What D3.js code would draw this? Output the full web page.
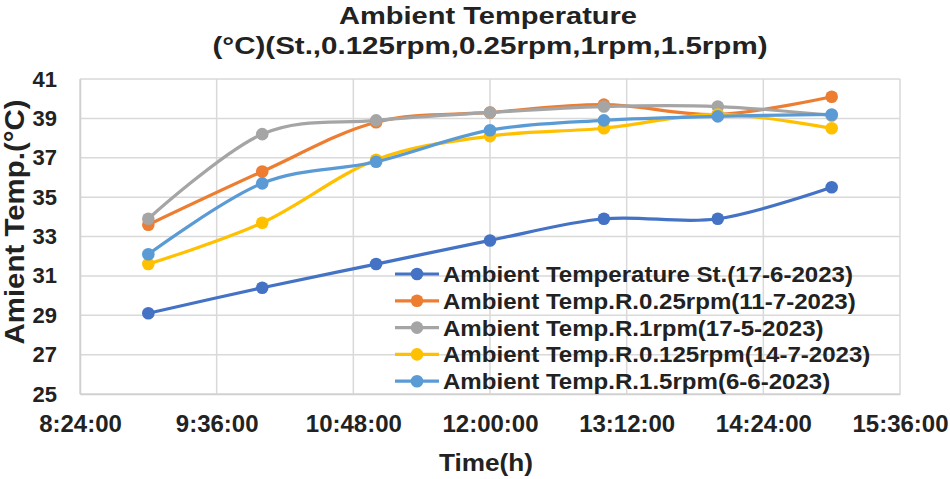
<!doctype html>
<html>
<head>
<script src="https://d3js.org/d3.v7.min.js"></script>
<style>
  body { margin: 0; background: #fff; }
  text { fill: #222; }
</style>
</head>
<body>
<svg width="950" height="479"></svg>
<script>
// time of each reading
var times = ["9:00:00", "10:00:00", "11:00:00", "12:00:00", "13:00:00", "14:00:00", "15:00:00"];

// series values (deg C)
var stValues   = [29.1, 30.4, 31.6, 32.8, 33.9, 33.9, 35.5];
var r025Values = [33.6, 36.3, 38.8, 39.3, 39.7, 39.2, 40.1];
var r1Values   = [33.9, 38.2, 38.9, 39.3, 39.6, 39.6, 39.15];
var r0125Values = [31.6, 33.7, 36.9, 38.1, 38.5, 39.2, 38.5];
var r15Values  = [32.1, 35.7, 36.8, 38.4, 38.9, 39.1, 39.2];

var seriesNames = [
  "Ambient Temperature St.(17-6-2023)",
  "Ambient Temp.R.0.25rpm(11-7-2023)",
  "Ambient Temp.R.1rpm(17-5-2023)",
  "Ambient Temp.R.0.125rpm(14-7-2023)",
  "Ambient Temp.R.1.5rpm(6-6-2023)"
];
var seriesValues = [stValues, r025Values, r1Values, r0125Values, r15Values];
var colors = ["#4472C4", "#ED7D31", "#A5A5A5", "#FFC000", "#5B9BD5"];

// axis ticks
var xTickLabels = ["8:24:00", "9:36:00", "10:48:00", "12:00:00", "13:12:00", "14:24:00", "15:36:00"];
var yTicks = [25, 27, 29, 31, 33, 35, 37, 39, 41];

function toMin(s) {
  var p = s.split(":");
  return +p[0] * 60 + +p[1] + (+p[2]) / 60;
}

var svg = d3.select("svg");
var plotL = 80, plotR = 900, plotT = 79, plotB = 394;
var font = "Liberation Sans, Arial, Helvetica, sans-serif";

var x = d3.scaleLinear().domain([toMin("8:24:00"), toMin("15:36:00")]).range([plotL, plotR]);
var y = d3.scaleLinear().domain([25, 41]).range([plotB, plotT]);

// gridlines
var grid = svg.append("g");
grid.selectAll(".hg").data(yTicks).enter().append("line")
  .attr("x1", plotL).attr("x2", plotR)
  .attr("y1", function(d) { return y(d); }).attr("y2", function(d) { return y(d); })
  .style("stroke", "#d9d9d9").style("stroke-width", 1.5);
grid.selectAll(".vg").data(xTickLabels).enter().append("line")
  .attr("x1", function(d) { return x(toMin(d)); }).attr("x2", function(d) { return x(toMin(d)); })
  .attr("y1", plotT).attr("y2", plotB)
  .style("stroke", "#d9d9d9").style("stroke-width", 1.5);

// axes
var yAxis = svg.append("g")
  .attr("transform", "translate(" + plotL + ",0)")
  .call(d3.axisLeft(y).tickValues(yTicks).tickSize(0).tickPadding(23));
yAxis.select(".domain").style("stroke", "#d0d0d0").style("stroke-width", 1.5);
yAxis.selectAll("text")
  .style("font-family", font)
  .style("font-size", "22px").style("font-weight", "bold").style("fill", "#222");

var xAxis = svg.append("g")
  .attr("transform", "translate(0," + plotB + ")")
  .call(d3.axisBottom(x).tickValues(xTickLabels.map(toMin)).tickSize(0)
    .tickFormat(function(d, i) { return xTickLabels[i]; }));
xAxis.select(".domain").style("stroke", "#d0d0d0").style("stroke-width", 1.5);
xAxis.selectAll("text")
  .attr("y", 38).attr("dy", 0)
  .style("font-family", font)
  .style("font-size", "24px").style("font-weight", "bold").style("fill", "#222");

// lines and markers
var line = d3.line()
  .x(function(d, i) { return x(toMin(times[i])); })
  .y(function(d) { return y(d); })
  .curve(d3.curveCardinal.tension(0));

seriesValues.forEach(function(vals, k) {
  svg.append("path")
    .datum(vals)
    .attr("d", line)
    .style("fill", "none")
    .style("stroke", colors[k])
    .style("stroke-width", 3.2);
  svg.append("g").selectAll("circle")
    .data(vals).enter().append("circle")
    .attr("cx", function(d, i) { return x(toMin(times[i])); })
    .attr("cy", function(d) { return y(d); })
    .attr("r", 6.3)
    .style("fill", colors[k]);
});

// legend
var legend = svg.append("g").attr("transform", "translate(395,274)");
var legendScale = null;
seriesNames.forEach(function(name, k) {
  var row = legend.append("g").attr("transform", "translate(0," + (k * 26.8) + ")");
  row.append("line").attr("x1", 0).attr("x2", 44).attr("y1", 0).attr("y2", 0)
    .style("stroke", colors[k]).style("stroke-width", 3.2);
  row.append("circle").attr("cx", 22).attr("cy", 0).attr("r", 6.3).style("fill", colors[k]);
  var t = row.append("text").attr("x", 48).attr("y", 8)
    .style("font-family", font)
    .style("font-size", "22px").style("font-weight", "bold")
    .text(name);
  var w = t.node().getComputedTextLength();
  if (legendScale === null) legendScale = 410 / w;
  t.attr("textLength", w * legendScale).attr("lengthAdjust", "spacingAndGlyphs");
});

// titles
svg.append("text").attr("x", 488).attr("y", 24).attr("text-anchor", "middle")
  .attr("textLength", 298).attr("lengthAdjust", "spacingAndGlyphs")
  .style("font-family", font)
  .style("font-size", "23px").style("font-weight", "bold")
  .text("Ambient Temperature");
svg.append("text").attr("x", 490).attr("y", 54).attr("text-anchor", "middle")
  .attr("textLength", 555).attr("lengthAdjust", "spacingAndGlyphs")
  .style("font-family", font)
  .style("font-size", "23px").style("font-weight", "bold")
  .text("(°C)(St.,0.125rpm,0.25rpm,1rpm,1.5rpm)");

svg.append("text").attr("x", 486).attr("y", 471).attr("text-anchor", "middle")
  .attr("textLength", 94).attr("lengthAdjust", "spacingAndGlyphs")
  .style("font-family", font)
  .style("font-size", "24px").style("font-weight", "bold")
  .text("Time(h)");

svg.append("text")
  .attr("transform", "translate(24,222) rotate(-90)")
  .attr("text-anchor", "middle")
  .attr("textLength", 245).attr("lengthAdjust", "spacingAndGlyphs")
  .style("font-family", font)
  .style("font-size", "28px").style("font-weight", "bold")
  .text("Amient Temp.(°C)");
</script>
</body>
</html>
